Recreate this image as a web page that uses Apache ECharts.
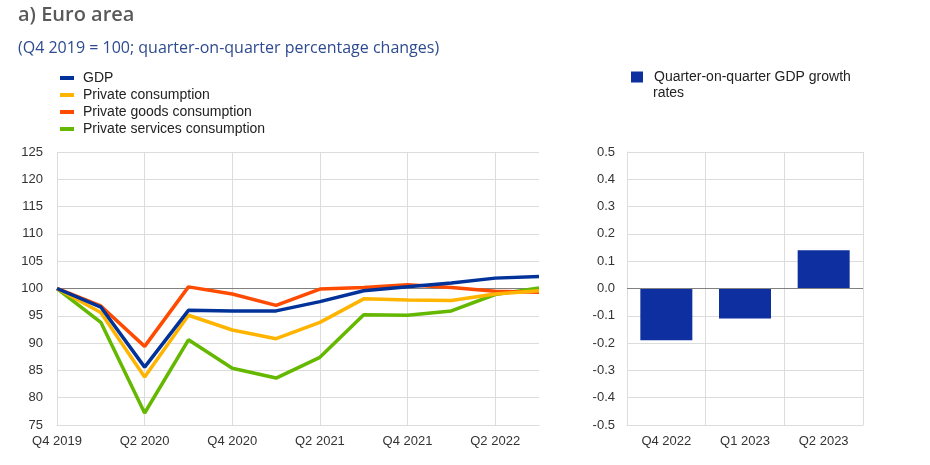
<!DOCTYPE html>
<html>
<head>
<meta charset="utf-8">
<script src="https://cdn.jsdelivr.net/npm/echarts@6/dist/echarts.min.js"></script>
<style>
html,body{margin:0;padding:0;background:#fff;}
#chart{width:930px;height:465px;}
</style>
</head>
<body>
<div id="chart"></div>
<script>
var quarters = ["Q4 2019","Q1 2020","Q2 2020","Q3 2020","Q4 2020","Q1 2021","Q2 2021","Q3 2021","Q4 2021","Q1 2022","Q2 2022","Q3 2022"];
var gdp = [100, 96.6, 85.6, 96.0, 95.9, 95.9, 97.6, 99.6, 100.3, 101.0, 101.9, 102.2];
var privateConsumption = [100, 95.6, 83.8, 95.1, 92.4, 90.8, 93.8, 98.1, 97.9, 97.8, 99.0, 99.6];
var goodsConsumption = [100, 96.8, 89.4, 100.3, 99.0, 96.9, 99.9, 100.2, 100.7, 100.2, 99.5, 99.3];
var servicesConsumption = [100, 93.8, 77.2, 90.6, 85.4, 83.6, 87.4, 95.2, 95.1, 95.9, 98.9, 100.1];
var barQuarters = ["Q4 2022","Q1 2023","Q2 2023"];
var qoqGrowth = [-0.19, -0.11, 0.14];

var seriesNames = ["GDP","Private consumption","Private goods consumption","Private services consumption"];
var barName = "Quarter-on-quarter GDP growth rates";
var colors = ["#003299","#ffb400","#ff4b00","#65b800"];
var lineData = [gdp, privateConsumption, goodsConsumption, servicesConsumption];

var chart = echarts.init(document.getElementById('chart'), null, {renderer:'canvas'});
var gridColor = '#dcdcdc';
var fontFam = 'Liberation Sans, Arial, sans-serif';
var labelStyle = {color:'#333', fontFamily:fontFam, fontSize:13};

var series = lineData.map(function(d, i){
  var s = {
    name: seriesNames[i], type:'line', xAxisIndex:0, yAxisIndex:0,
    data: d, symbol:'none', smooth:false,
    lineStyle:{color:colors[i], width:3.5}, itemStyle:{color:colors[i]},
    z: 10 - i
  };
  if (i === 0) {
    s.markLine = {silent:true, symbol:'none', label:{show:false},
      lineStyle:{color:'#808080', width:1, type:'solid'}, data:[{yAxis:100}], z:1};
  }
  return s;
});
series.push({
  name: barName, type:'bar', xAxisIndex:1, yAxisIndex:1, data: qoqGrowth,
  barWidth: 52, itemStyle:{color:'#0d2fa0'},
  markLine:{silent:true, symbol:'none', label:{show:false},
    lineStyle:{color:'#808080', width:1, type:'solid'}, data:[{yAxis:0}]}
});

chart.setOption({
  animation:false,
  title:[
    {text:'a) Euro area', left:13, top:0,
     textStyle:{fontFamily:'Open Sans, sans-serif', fontWeight:600, fontSize:20, color:'#595959'}},
    {text:'(Q4 2019 = 100; quarter-on-quarter percentage changes)', left:13, top:35,
     textStyle:{fontFamily:'Open Sans, sans-serif', fontWeight:'normal', fontSize:16, color:'#2e4b8f'}}
  ],
  graphic:[
    {type:'text', left:653, top:86, style:{text:'rates', fill:'#222', font:'14px Liberation Sans, Arial, sans-serif'}}
  ],
  legend:[
    {data:seriesNames, orient:'vertical', left:55, top:66, itemWidth:14, itemHeight:4, itemGap:3,
     icon:'rect', selectedMode:false,
     textStyle:{color:'#222', fontFamily:fontFam, fontSize:14, padding:[0,0,0,4]}},
    {data:[barName], left:626, top:65, itemWidth:12, itemHeight:11, icon:'rect', selectedMode:false,
     formatter:function(){return 'Quarter-on-quarter GDP growth';},
     textStyle:{color:'#222', fontFamily:fontFam, fontSize:14, padding:[0,0,0,6]}}
  ],
  grid:[
    {left:57, top:152, width:482, height:273, containLabel:false, outerBoundsMode:'none'},
    {left:627, top:152, width:236, height:273, containLabel:false, outerBoundsMode:'none'}
  ],
  xAxis:[
    {type:'category', gridIndex:0, data:quarters, boundaryGap:false,
     axisLine:{show:true, lineStyle:{color:gridColor}}, axisTick:{show:false},
     axisLabel:Object.assign({interval:1, margin:10}, labelStyle),
     splitLine:{show:true, interval:1, lineStyle:{color:gridColor}}},
    {type:'category', gridIndex:1, data:barQuarters, boundaryGap:true,
     axisLine:{show:true, onZero:false, lineStyle:{color:gridColor}}, axisTick:{show:false},
     axisLabel:Object.assign({interval:0, margin:10}, labelStyle),
     splitLine:{show:true, lineStyle:{color:gridColor}}}
  ],
  yAxis:[
    {type:'value', gridIndex:0, min:75, max:125, interval:5,
     axisLine:{show:false}, axisTick:{show:false},
     axisLabel:Object.assign({margin:14}, labelStyle),
     splitLine:{show:true, lineStyle:{color:gridColor}}},
    {type:'value', gridIndex:1, min:-0.5, max:0.5, interval:0.1,
     axisLine:{show:true, lineStyle:{color:gridColor}}, axisTick:{show:false},
     axisLabel:Object.assign({margin:12, formatter:function(v){return v.toFixed(1);}}, labelStyle),
     splitLine:{show:true, lineStyle:{color:gridColor}}}
  ],
  series:series
});
</script>
</body>
</html>
